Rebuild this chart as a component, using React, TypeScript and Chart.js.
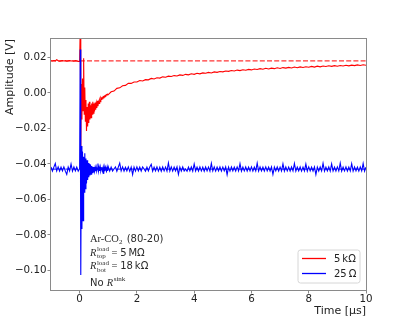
import React, { useEffect, useRef } from 'react';
import { Chart, registerables } from 'chart.js';

Chart.register(...registerables);

// ---- time samples [µs] ----
const TIME_PRE = [
  -1.0, -0.95, -0.9, -0.85, -0.8, -0.75, -0.7, -0.65, -0.6, -0.55,
  -0.5, -0.45, -0.4, -0.35, -0.3, -0.25, -0.2, -0.15, -0.1, -0.05,
];
const TIME_SPIKE = [
  0.0, 0.02, 0.04, 0.06, 0.08, 0.1, 0.12, 0.14, 0.16, 0.18,
  0.2, 0.22, 0.24, 0.26, 0.28, 0.3, 0.32, 0.34, 0.36, 0.38,
  0.4, 0.42, 0.44, 0.46, 0.48, 0.5, 0.52, 0.54, 0.56, 0.58,
  0.6, 0.62, 0.64, 0.66, 0.68, 0.7, 0.72, 0.74, 0.76, 0.78,
  0.8, 0.82, 0.84, 0.86, 0.88, 0.9, 0.92, 0.94, 0.96, 0.98,
];
const TIME_RED_TAIL = [
  1.0, 1.1, 1.2, 1.3, 1.4, 1.5, 1.6, 1.7, 1.8, 1.9,
  2.0, 2.1, 2.2, 2.3, 2.4, 2.5, 2.6, 2.7, 2.8, 2.9,
  3.0, 3.1, 3.2, 3.3, 3.4, 3.5, 3.6, 3.7, 3.8, 3.9,
  4.0, 4.1, 4.2, 4.3, 4.4, 4.5, 4.6, 4.7, 4.8, 4.9,
  5.0, 5.1, 5.2, 5.3, 5.4, 5.5, 5.6, 5.7, 5.8, 5.9,
  6.0, 6.1, 6.2, 6.3, 6.4, 6.5, 6.6, 6.7, 6.8, 6.9,
  7.0, 7.1, 7.2, 7.3, 7.4, 7.5, 7.6, 7.7, 7.8, 7.9,
  8.0, 8.1, 8.2, 8.3, 8.4, 8.5, 8.6, 8.7, 8.8, 8.9,
  9.0, 9.1, 9.2, 9.3, 9.4, 9.5, 9.6, 9.7, 9.8, 9.9,
  10.0,
];
const TIME_BLUE_TAIL = [
  1.0, 1.05, 1.1, 1.15, 1.2, 1.25, 1.3, 1.35, 1.4, 1.45, 1.5, 1.55, 1.6, 1.65, 1.7, 1.75, 1.8, 1.85, 1.9, 1.95,
  2.0, 2.05, 2.1, 2.15, 2.2, 2.25, 2.3, 2.35, 2.4, 2.45, 2.5, 2.55, 2.6, 2.65, 2.7, 2.75, 2.8, 2.85, 2.9, 2.95,
  3.0, 3.05, 3.1, 3.15, 3.2, 3.25, 3.3, 3.35, 3.4, 3.45, 3.5, 3.55, 3.6, 3.65, 3.7, 3.75, 3.8, 3.85, 3.9, 3.95,
  4.0, 4.05, 4.1, 4.15, 4.2, 4.25, 4.3, 4.35, 4.4, 4.45, 4.5, 4.55, 4.6, 4.65, 4.7, 4.75, 4.8, 4.85, 4.9, 4.95,
  5.0, 5.05, 5.1, 5.15, 5.2, 5.25, 5.3, 5.35, 5.4, 5.45, 5.5, 5.55, 5.6, 5.65, 5.7, 5.75, 5.8, 5.85, 5.9, 5.95,
  6.0, 6.05, 6.1, 6.15, 6.2, 6.25, 6.3, 6.35, 6.4, 6.45, 6.5, 6.55, 6.6, 6.65, 6.7, 6.75, 6.8, 6.85, 6.9, 6.95,
  7.0, 7.05, 7.1, 7.15, 7.2, 7.25, 7.3, 7.35, 7.4, 7.45, 7.5, 7.55, 7.6, 7.65, 7.7, 7.75, 7.8, 7.85, 7.9, 7.95,
  8.0, 8.05, 8.1, 8.15, 8.2, 8.25, 8.3, 8.35, 8.4, 8.45, 8.5, 8.55, 8.6, 8.65, 8.7, 8.75, 8.8, 8.85, 8.9, 8.95,
  9.0, 9.05, 9.1, 9.15, 9.2, 9.25, 9.3, 9.35, 9.4, 9.45, 9.5, 9.55, 9.6, 9.65, 9.7, 9.75, 9.8, 9.85, 9.9, 9.95,
  10.0,
];

// ---- 5 kΩ (red) amplitude [V] ----
const RED_PRE = [
  0.0181, 0.0179, 0.0182, 0.018, 0.0186, 0.0181, 0.0178, 0.018, 0.0182, 0.0179,
  0.0181, 0.0178, 0.018, 0.0182, 0.0179, 0.018, 0.0178, 0.0181, 0.0179, 0.0177,
];
const RED_SPIKE = [
  0.0178, 0.036, -0.032, 0.005, -0.015, 0.008, -0.01, 0.0195, -0.012, 0.003,
  -0.016, -0.004, -0.0215, -0.008, -0.019, -0.006, -0.017, -0.005, -0.015, -0.007,
  -0.014, -0.006, -0.012, -0.005, -0.0115, -0.006, -0.0105, -0.0055, -0.0095, -0.006,
  -0.0085, -0.0045, -0.0075, -0.005, -0.006, -0.004, -0.005, -0.003, -0.0038, -0.0028,
  -0.003, -0.0022, -0.0025, -0.0018, -0.002, -0.0014, -0.0016, -0.001, -0.0012, -0.0008,
];
const RED_TAIL = [
  -0.001, 0.0006, 0.001, 0.0025, 0.0028, 0.004, 0.0042, 0.0053, 0.0053, 0.0061,
  0.0061, 0.0069, 0.0067, 0.0074, 0.0073, 0.0081, 0.0078, 0.0085, 0.0083, 0.009,
  0.0088, 0.0094, 0.0092, 0.0097, 0.0095, 0.0101, 0.0098, 0.0104, 0.0101, 0.0107,
  0.0104, 0.011, 0.0107, 0.0112, 0.011, 0.0115, 0.0112, 0.0118, 0.0115, 0.012,
  0.0118, 0.0123, 0.0121, 0.0126, 0.0123, 0.0128, 0.0125, 0.013, 0.0127, 0.0132,
  0.0129, 0.0134, 0.0131, 0.0136, 0.0133, 0.0138, 0.0134, 0.0139, 0.0136, 0.0141,
  0.0137, 0.0142, 0.0139, 0.0143, 0.014, 0.0145, 0.0141, 0.0146, 0.0143, 0.0147,
  0.0144, 0.0149, 0.0145, 0.015, 0.0146, 0.0151, 0.0148, 0.0152, 0.0149, 0.0153,
  0.015, 0.0154, 0.0151, 0.0155, 0.0152, 0.0156, 0.0153, 0.0157, 0.0154, 0.0158,
  0.0155,
];

// ---- 25 Ω (blue) amplitude [V] ----
const BLUE_PRE = [
  -0.0417, -0.0441, -0.0418, -0.0398, -0.044, -0.0417, -0.0441, -0.0418, -0.044, -0.0417,
  -0.0441, -0.0459, -0.0418, -0.044, -0.0401, -0.0441, -0.0417, -0.044, -0.0418, -0.0441,
];
const BLUE_SPIKE = [
  -0.0426, 0.0244, -0.1025, -0.03, -0.0767, -0.033, -0.072, -0.036, -0.056, -0.034,
  -0.054, -0.037, -0.051, -0.038, -0.049, -0.0395, -0.0475, -0.04, -0.0465, -0.0405,
  -0.0458, -0.0412, -0.045, -0.0416, -0.0446, -0.0418, -0.0442, -0.042, -0.0441, -0.0419,
  -0.044, -0.0429, -0.0398, -0.044, -0.042, -0.0439, -0.0418, -0.0441, -0.043, -0.0419,
  -0.044, -0.0421, -0.0457, -0.042, -0.0441, -0.0419, -0.0431, -0.044, -0.0418, -0.0439,
];
const BLUE_TAIL = [
  -0.0417, -0.0441, -0.0418, -0.044, -0.0429, -0.0417, -0.0442, -0.0418, -0.0396, -0.044, -0.0417, -0.0441, -0.0419, -0.044, -0.0417, -0.0442, -0.0418, -0.046, -0.0418, -0.0441,
  -0.0417, -0.044, -0.0418, -0.0441, -0.0417, -0.0429, -0.0441, -0.0418, -0.044, -0.0417, -0.0402, -0.0441, -0.0418, -0.044, -0.0417, -0.0441, -0.0418, -0.0442, -0.0417, -0.044,
  -0.0418, -0.0441, -0.0395, -0.044, -0.0417, -0.0441, -0.0418, -0.044, -0.0417, -0.0459, -0.0418, -0.0441, -0.0417, -0.044, -0.0429, -0.0441, -0.0418, -0.044, -0.0417, -0.0441,
  -0.0401, -0.044, -0.0418, -0.0441, -0.0417, -0.044, -0.0418, -0.0442, -0.0417, -0.044, -0.0418, -0.0441, -0.0397, -0.044, -0.0417, -0.0441, -0.0418, -0.044, -0.0417, -0.0441,
  -0.0418, -0.044, -0.0417, -0.0461, -0.0418, -0.0441, -0.0417, -0.044, -0.0418, -0.0441, -0.0417, -0.044, -0.0399, -0.0441, -0.0418, -0.044, -0.0417, -0.0441, -0.0418, -0.044,
  -0.0417, -0.0441, -0.0418, -0.044, -0.0396, -0.0441, -0.0417, -0.044, -0.0418, -0.0441, -0.0417, -0.044, -0.0418, -0.0441, -0.0417, -0.0459, -0.0418, -0.044, -0.0417, -0.0441,
  -0.0418, -0.044, -0.04, -0.0441, -0.0417, -0.044, -0.0418, -0.0441, -0.0417, -0.044, -0.0398, -0.0441, -0.0418, -0.044, -0.0417, -0.0441, -0.0418, -0.044, -0.0401, -0.0441,
  -0.0417, -0.044, -0.0418, -0.0441, -0.0417, -0.046, -0.0418, -0.0441, -0.0417, -0.044, -0.0397, -0.0441, -0.0418, -0.044, -0.0417, -0.0441, -0.04, -0.044, -0.0418, -0.0441,
  -0.0417, -0.044, -0.0396, -0.0441, -0.0418, -0.044, -0.0417, -0.0441, -0.0418, -0.044, -0.0399, -0.0441, -0.0417, -0.044, -0.0418, -0.0441, -0.0417, -0.044, -0.0398, -0.0441,
  -0.0418,
];

// baselines (dashed)
const RED_BASELINE = 0.018;
const BLUE_BASELINE = -0.0429;

const X_RANGE = [-1, 10];
const Y_RANGE = [-0.111, 0.0303];
const X_TICKS = [0, 2, 4, 6, 8, 10];
const Y_TICKS = [-0.1, -0.08, -0.06, -0.04, -0.02, 0.0, 0.02];

const SERIES_LABELS = ['5\u2009k\u03A9', '25\u2009\u03A9'];

const TIME_RED = [...TIME_PRE, ...TIME_SPIKE, ...TIME_RED_TAIL];
const TIME_BLUE = [...TIME_PRE, ...TIME_SPIKE, ...TIME_BLUE_TAIL];
const RED = [...RED_PRE, ...RED_SPIKE, ...RED_TAIL];
const BLUE = [...BLUE_PRE, ...BLUE_SPIKE, ...BLUE_TAIL];

const SANS = '"DejaVu Sans", sans-serif';
const SERIF = '"Liberation Serif", "DejaVu Serif", serif';

const overlay = {
  id: 'overlay',
  afterDatasetsDraw(chart: any) {
    const { ctx, chartArea: a } = chart;
    ctx.save();
    // frame
    ctx.strokeStyle = '#8a8a8a';
    ctx.lineWidth = 1;
    ctx.strokeRect(
      Math.round(a.left) - 0.5,
      Math.round(a.top) - 0.5,
      Math.round(a.right - a.left) + 1,
      Math.round(a.bottom - a.top) + 1
    );

    // legend
    const lx = 298, ly = 250, lw = 62, lh = 33, r = 2.5;
    ctx.beginPath();
    ctx.moveTo(lx + r, ly);
    ctx.lineTo(lx + lw - r, ly);
    ctx.quadraticCurveTo(lx + lw, ly, lx + lw, ly + r);
    ctx.lineTo(lx + lw, ly + lh - r);
    ctx.quadraticCurveTo(lx + lw, ly + lh, lx + lw - r, ly + lh);
    ctx.lineTo(lx + r, ly + lh);
    ctx.quadraticCurveTo(lx, ly + lh, lx, ly + lh - r);
    ctx.lineTo(lx, ly + r);
    ctx.quadraticCurveTo(lx, ly, lx + r, ly);
    ctx.closePath();
    ctx.fillStyle = 'rgba(255,255,255,0.8)';
    ctx.fill();
    ctx.strokeStyle = '#d6d6d6';
    ctx.lineWidth = 1;
    ctx.stroke();
    const colors = ['#ff0000', '#0000ff'];
    const rows = [258.5, 273.5];
    ctx.font = `10px ${SANS}`;
    ctx.textBaseline = 'middle';
    ctx.textAlign = 'left';
    for (let i = 0; i < 2; i++) {
      ctx.strokeStyle = colors[i];
      ctx.lineWidth = 1.3;
      ctx.beginPath();
      ctx.moveTo(302, rows[i]);
      ctx.lineTo(326, rows[i]);
      ctx.stroke();
      ctx.fillStyle = '#222';
      ctx.fillText(SERIES_LABELS[i], 334, rows[i] + 0.5);
    }

    // annotation
    ctx.fillStyle = '#2a2a2a';
    ctx.textBaseline = 'alphabetic';
    ctx.textAlign = 'left';
    const run = (x: number, y: number, t: string, f: string) => {
      ctx.font = f;
      ctx.fillText(t, x, y);
      return x + ctx.measureText(t).width;
    };
    const big = `10.5px ${SERIF}`;
    const bigI = `italic 10.5px ${SERIF}`;
    const small = `7px ${SERIF}`;
    const sans = `10px ${SANS}`;
    // line 1
    let x = 90;
    let y = 241.5;
    x = run(x, y, 'Ar-CO', big);
    x = run(x, y + 2.5, '2', small);
    x = run(x + 1, y, ' (80-20)', sans);
    // line 2 & 3
    const rLine = (yy: number, sub: string, val: string) => {
      let xx = 90;
      xx = run(xx, yy, 'R', bigI);
      const x1 = run(xx + 0.5, yy - 4.5, 'load', small);
      const x2 = run(xx + 0.5, yy + 2.5, sub, small);
      xx = Math.max(x1, x2);
      xx = run(xx, yy, ' = ', big);
      run(xx, yy, val, sans);
    };
    rLine(255.5, 'top', '5\u2009M\u03A9');
    rLine(269, 'bot', '18\u2009k\u03A9');
    // line 4
    x = 90;
    y = 285.5;
    x = run(x, y, 'No ', sans);
    x = run(x, y, 'R', bigI);
    run(x + 0.5, y - 4.5, 'sink', small);

    ctx.restore();
  },
  afterDraw(chart: any) {
    const { ctx, chartArea: a } = chart;
    ctx.save();
    ctx.fillStyle = '#222';
    ctx.font = `11px ${SANS}`;
    // x title
    ctx.textAlign = 'right';
    ctx.textBaseline = 'middle';
    ctx.fillText('Time [\u00B5s]', a.right, 311.5);
    // y title
    ctx.translate(10.5, a.top);
    ctx.rotate(-Math.PI / 2);
    ctx.textAlign = 'right';
    ctx.textBaseline = 'middle';
    ctx.fillText('Amplitude [V]', 0, 0);
    ctx.restore();
  },
};

const fmtY = (v: number) => {
  const s = Math.abs(v) < 1e-9 ? '0.00' : v.toFixed(2);
  return s.replace('-', '\u2212');
};

export default function App() {
  const ref = useRef<HTMLCanvasElement | null>(null);
  useEffect(() => {
    if (!ref.current) return;
    const pts = (ts: number[], ys: number[]) => ts.map((t, i) => ({ x: t, y: ys[i] }));
    const chart = new Chart(ref.current, {
      type: 'line',
      data: {
        datasets: [
          {
            label: SERIES_LABELS[0],
            data: pts(TIME_RED, RED),
            borderColor: '#ff0000',
            borderWidth: 1.1,
            pointRadius: 0,
            tension: 0,
            order: 2,
          },
          {
            label: SERIES_LABELS[1],
            data: pts(TIME_BLUE, BLUE),
            borderColor: '#0000ff',
            borderWidth: 1.1,
            pointRadius: 0,
            tension: 0,
            order: 1,
          },
          {
            label: 'red baseline',
            data: [
              { x: X_RANGE[0], y: RED_BASELINE },
              { x: X_RANGE[1], y: RED_BASELINE },
            ],
            borderColor: 'rgba(255,0,0,0.8)',
            borderWidth: 1.3,
            borderDash: [5, 2.2],
            pointRadius: 0,
            order: 3,
          },
          {
            label: 'blue baseline',
            data: [
              { x: X_RANGE[0], y: BLUE_BASELINE },
              { x: X_RANGE[1], y: BLUE_BASELINE },
            ],
            borderColor: 'rgba(0,0,255,0.8)',
            borderWidth: 1.3,
            borderDash: [5, 2.2],
            pointRadius: 0,
            order: 3,
          },
        ],
      },
      options: {
        responsive: false,
        animation: false,
        devicePixelRatio: 1,
        parsing: false as any,
        normalized: true,
        layout: { padding: { left: 0, top: 39, right: 41, bottom: 0 } },
        plugins: { legend: { display: false }, tooltip: { enabled: false } },
        scales: {
          x: {
            type: 'linear',
            min: X_RANGE[0],
            max: X_RANGE[1],
            afterBuildTicks: (s: any) => {
              s.ticks = X_TICKS.map((v) => ({ value: v }));
            },
            afterFit: (s: any) => {
              s.height = 36;
            },
            ticks: {
              font: { family: SANS, size: 10.3 },
              color: '#222',
              padding: 0,
              maxRotation: 0,
              autoSkip: false,
              callback: (v: any) => String(v),
            },
            grid: {
              drawOnChartArea: false,
              drawTicks: true,
              tickLength: 3.5,
              color: '#8a8a8a',
              tickWidth: 1,
            },
            border: { display: false },
          },
          y: {
            type: 'linear',
            min: Y_RANGE[0],
            max: Y_RANGE[1],
            afterBuildTicks: (s: any) => {
              s.ticks = Y_TICKS.map((v) => ({ value: v }));
            },
            afterFit: (s: any) => {
              s.width = 51;
            },
            ticks: {
              font: { family: SANS, size: 10.3 },
              color: '#222',
              padding: 1,
              autoSkip: false,
              callback: (v: any) => fmtY(Number(v)),
            },
            grid: {
              drawOnChartArea: false,
              drawTicks: true,
              tickLength: 3.5,
              color: '#8a8a8a',
              tickWidth: 1,
            },
            border: { display: false },
          },
        },
      },
      plugins: [overlay],
    });
    return () => chart.destroy();
  }, []);
  return (
    <div style={{ position: 'fixed', left: 0, top: 0, width: 407, height: 326, background: '#fff' }}>
      <canvas ref={ref} width={407} height={326} style={{ display: 'block', width: 407, height: 326 }} />
    </div>
  );
}
